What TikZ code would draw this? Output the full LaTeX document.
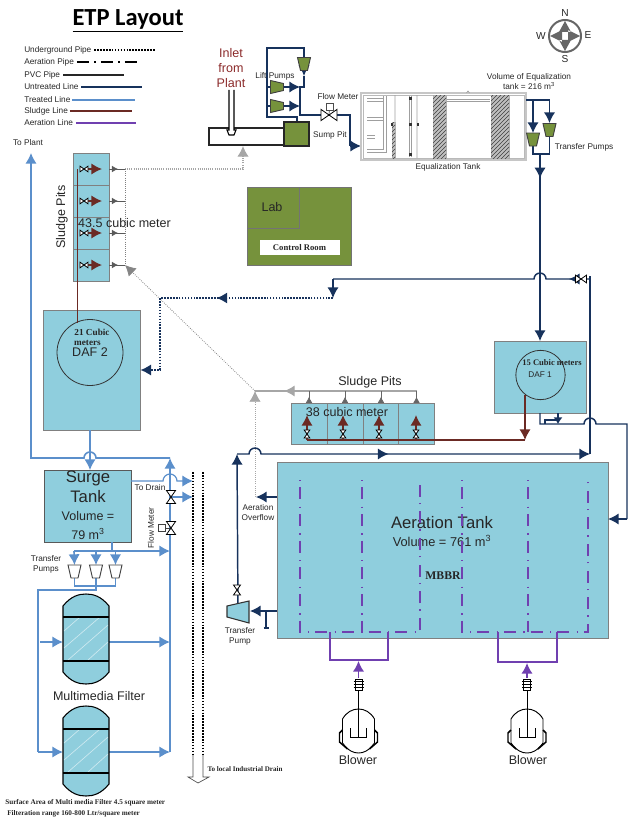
\documentclass[tikz,border=0pt]{standalone}
\usepackage{fontspec}
\setmainfont{Liberation Sans}
\newfontfamily\serfont{Liberation Serif}
\newfontfamily\ttlfont{Carlito}
\usepackage{tikz}
\usetikzlibrary{arrows.meta,decorations.markings,patterns}
\definecolor{tankfill}{HTML}{8FCEDD}
\definecolor{clrnavy}{HTML}{17325C}
\definecolor{clrblue}{HTML}{5B8FCB}
\definecolor{clrsludge}{HTML}{6B2A24}
\definecolor{clraer}{HTML}{7040B0}
\definecolor{clrgreen}{HTML}{76923C}
\definecolor{clrgray}{HTML}{A6A6A6}
\definecolor{clrinlet}{HTML}{8B2A2A}

\begin{document}
\begin{tikzpicture}[x=.75pt, y=-.75pt, >={Latex[length=8pt,width=8.5pt]},
	every node/.style={inner sep=0pt, text=black!85, font=\fontsize{6.2}{7.5}\selectfont},
	txm/.style={font=\fontsize{9.4}{11.25}\selectfont},
	txl/.style={font=\fontsize{12.5}{14}\selectfont},
	txb/.style={font=\serfont\bfseries\fontsize{#1}{#1}\selectfont},
	tank/.style={draw=black!50, fill=tankfill, line width=.6pt},
	greenbox/.style={draw=black!55, fill=clrgreen, line width=.6pt},
	circ/.style={circle, draw=black!80, line width=.6pt},
	hatchcol/.style={draw=gray!60, fill=gray!50, postaction={pattern=north east lines, pattern color=black!75}},
	underground/.style={color=clrnavy, line width=1.2pt, densely dotted},
	aerdash/.style={color=clraer, line width=1.1pt, dash pattern=on 1pt off 4.5pt on 9pt off 5.5pt},
	pvc/.style={color=black!85, line width=.9pt},
	untreated/.style={color=clrnavy, line width=1.1pt},
	treated/.style={color=clrblue, line width=1.2pt},
	sludgeln/.style={color=clrsludge, line width=1.2pt},
	aerln/.style={color=clraer, line width=1.1pt},
	grayln/.style={color=clrgray, line width=1pt},
	graydot/.style={color=gray, line width=.6pt, densely dotted},
	tipat/.style={postaction={decorate, decoration={markings, mark=at position #1 with {\arrow{Latex[length=8pt,width=8.5pt]}}}}},
	tipsm/.style={postaction={decorate, decoration={markings, mark=at position #1 with {\arrow{Latex[length=4.5pt,width=5pt]}}}}},
	valveh/.pic={\draw[black, fill=white, line width=.6pt] (-5,-3.5) -- (5,3.5) -- (5,-3.5) -- (-5,3.5) -- cycle;},
	pump/.pic={\draw[pic actions, draw=black!75, line width=.7pt] (-6.5,-6.5) -- (6.5,-6.5) -- (3.5,6.5) -- (-3.5,6.5) -- cycle;},
	filter/.pic={
		\draw[fill=tankfill, line width=.8pt] (-23,-33) .. controls (-15,-43) and (-7,-45) .. (0,-45) .. controls (7,-45) and (15,-43) .. (23,-33) -- (23,33) .. controls (15,43) and (7,45) .. (0,45) .. controls (-7,45) and (-15,43) .. (-23,33) -- cycle;
		\draw[white!55!tankfill, line width=.5pt] (-22,-8) -- (-6,-22) (-22,9) -- (14,-22) (-18,21) -- (22,-14) (2,21) -- (22,3);
		\draw[line width=1.1pt] (-23,-22) -- (23,-22) (-23,22) -- (23,22);
	},
	blower/.pic={
		\draw[line width=.7pt] (-16,-12) .. controls (-12,-19) and (-6,-22) .. (0,-22) .. controls (6,-22) and (12,-19) .. (16,-12) -- (16,12) .. controls (10,20) and (5,22) .. (0,22) .. controls (-5,22) and (-10,20) .. (-16,12) -- cycle;
		\draw[line width=1.1pt] (-16,-1) -- (-19,2) -- (-19,11) -- (-11,18) (16,-1) -- (19,2) -- (19,11) -- (11,18);
		\draw[line width=.7pt] (-8,-3) -- (-8,6) -- (8,6) -- (8,-3) (0,-46) -- (0,6);
		\draw[line width=.7pt, fill=white] (-3.5,-52) rectangle (3.5,-41);
		\draw[line width=.7pt] (-5,-49.5) -- (5,-49.5) (-5,-46.5) -- (5,-46.5) (-5,-43.5) -- (5,-43.5);
	}]
	\useasboundingbox (0,0) rectangle (631,824);

	\node[font=\ttlfont\bfseries\fontsize{18.4}{20}\selectfont, text=black] (title) at (128,21) {\underline{ETP Layout}};

	\node[anchor=west] (lg1) at (24,50) {Underground Pipe};
	\node[anchor=west] (lg2) at (24,62) {Aeration Pipe};
	\node[anchor=west] (lg3) at (24,75) {PVC Pipe};
	\node[anchor=west] (lg4) at (24,87) {Untreated Line};
	\node[anchor=west] (lg5) at (24,100) {Treated Line};
	\node[anchor=west] (lg6) at (24,111) {Sludge Line};
	\node[anchor=west] (lg7) at (24,123) {Aeration Line};
	\coordinate (lg1e) at (155,50);
	\coordinate (lg2e) at (140,62);
	\coordinate (lg3e) at (124,75);
	\coordinate (lg4e) at (142,87);
	\coordinate (lg5e) at (135,100);
	\coordinate (lg6e) at (132,111);
	\coordinate (lg7e) at (136,123);
	\draw[black, line width=1.2pt, densely dotted, shorten <=2pt] (lg1.east) -- (lg1e);
	\draw[black, line width=1.1pt, dash pattern=on 9pt off 4pt on 1pt off 4pt, shorten <=2pt] (lg2.east) -- (lg2e);
	\draw[pvc, shorten <=2pt] (lg3.east) -- (lg3e);
	\draw[untreated, shorten <=2pt] (lg4.east) -- (lg4e);
	\draw[treated, line width=.8pt, shorten <=1pt] (lg5.east) -- (lg5e);
	\draw[sludgeln, line width=.8pt, shorten <=1pt] (lg6.east) -- (lg6e);
	\draw[aerln, shorten <=2pt] (lg7.east) -- (lg7e);

	\node (cmpN) at (565,13) {\fontsize{7.6}{9}\selectfont N};
	\node (cmpS) at (565,59) {\fontsize{7.6}{9}\selectfont S};
	\node (cmpW) at (541,36) {\fontsize{7.6}{9}\selectfont W};
	\node (cmpE) at (588,35) {\fontsize{7.6}{9}\selectfont E};
	\node[circ, draw=black!60, line width=1.5pt, minimum size=24pt] (cmp) at (565,36) {};
	\fill[black!60] (565,21) -- (571,32) -- (559,32) -- cycle (565,51) -- (571,40) -- (559,40) -- cycle (550,36) -- (562,30) -- (562,42) -- cycle (580,36) -- (568,30) -- (568,42) -- cycle;

	\node[txm, text=clrinlet, align=center] (inlet) at (231,68) {Inlet\\from\\Plant};
	\node[draw=black!85, fill=white, line width=.9pt, minimum width=56.25pt, minimum height=12.75pt] (sump) at (246.5,136.5) {};
	\node[greenbox, draw=black!85, line width=.9pt, minimum width=18.75pt, minimum height=18pt] (sumppit) at (296.5,134) {};
	\draw[black, line width=.8pt, fill=white] (229,90) -- (229,130) -- (227,130) -- (229,135) -- (234,135) -- (236,130) -- (234,130) -- (234,90);

	\coordinate (lpA) at (267,117);
	\coordinate (lpB) at (267,48);
	\coordinate (lpC) at (304,48);
	\coordinate (lpD) at (297,117);
	\coordinate (lpE) at (300,87);
	\coordinate (lpF) at (300,115);
	\coordinate (lpG) at (304,87);
	\coordinate (pumpa) at (304,64);
	\coordinate (pumpb) at (277,87);
	\coordinate (pumpc) at (277,106);
	\coordinate (pumpbl) at (267,87);
	\coordinate (pumpcl) at (267,106);
	\coordinate (pumpbr) at (283,87);
	\coordinate (pumpcr) at (283,106);
	\coordinate (lpH) at (300,106);
	\coordinate (fmv) at (329,115);
	\coordinate (fmbend) at (350,115);
	\coordinate (fmdown) at (350,146);
	\coordinate (eqin) at (361,146);
	\draw[untreated] (sumppit.north -| lpD) -- (lpD) -- (lpA) -- (lpB) -- (lpC) -- (pumpa);
	\draw[untreated,->] (pumpa) -- (304,76);
	\draw[untreated] (304,76) -- (lpG) -- (lpE) -- (lpF) -- (fmv) -- (fmbend) -- (fmdown);
	\draw[untreated,->] (fmdown) -- (eqin);
	\draw[untreated] (pumpbl) -- (pumpb) (pumpcl) -- (pumpc);
	\draw[untreated,->] (pumpbr) -- (lpE);
	\draw[untreated,->] (pumpcr) -- (lpH);
	\pic[fill=clrgreen] at (pumpa) {pump};
	\pic[fill=clrgreen, rotate=90] at (pumpb) {pump};
	\pic[fill=clrgreen, rotate=90] at (pumpc) {pump};
	\node (liftlbl) at (275,76) {Lift Pumps};
	\node[draw=black!70, fill=white, minimum size=5.25pt, line width=.5pt] (fmbox) at (329.5,106.5) {};
	\draw[black!70, line width=.5pt] (fmbox) -- (fmv);
	\pic[scale=1.6] at (fmv) {valveh};
	\node (fmlbl) at (338,97) {Flow Meter};
	\node (sumplbl) at (330,135) {Sump Pit};

	\node[draw=gray!45, fill=white, line width=.9pt, minimum width=123.75pt, minimum height=50.25pt] (eq) at (443.5,126.5) {};
	\draw[gray!55, line width=.5pt] (363,95) rectangle (524,158);
	\draw[gray!75, line width=.5pt, double=white, double distance=1.4pt] (367,100) -- (383,100) (367,119) -- (383,119) (367,137) -- (375,137) (367,151) -- (385,151) -- (385,96);
	\draw[gray!75, line width=.5pt, double=white, double distance=1.4pt] (410.5,96) -- (410.5,157) (446,100.5) -- (490,100.5);
	\draw[gray!75, line width=.5pt] (395,95) -- (395,158) (417,95) -- (417,158) (466.5,93) -- (468,91) -- (469.5,93);
	\node[hatchcol, minimum width=2.25pt, minimum height=27pt] (eqcola) at (393.5,140) {};
	\node[hatchcol, minimum width=9.75pt, minimum height=47.25pt] (eqcolb) at (439.5,126.5) {};
	\node[hatchcol, minimum width=13.5pt, minimum height=47.25pt] (eqcolc) at (500,126.5) {};
	\draw[gray!40!black, line width=2pt] (410.5,96.5) -- (410.5,99.5) (410.5,123) -- (410.5,126) (410.5,153) -- (410.5,156) (418,123) -- (418,126) (392,123) -- (392,126);
	\node (eqlbl) at (448,167) {Equalization Tank};
	\node[align=center] (eqvol) at (529,82) {Volume of Equalization\\tank = 216 m\textsuperscript{3}};

	\coordinate (tpA) at (526,100);
	\coordinate (tpB) at (549.5,100);
	\coordinate (tpC) at (533,100);
	\coordinate (pumpd) at (533,139.5);
	\coordinate (pumpe) at (549.5,130);
	\coordinate (tpD) at (533,154);
	\coordinate (tpE) at (549.5,154);
	\coordinate (tpF) at (540,154);
	\draw[untreated,->] (tpC) -- (533,133);
	\draw[untreated,->] (tpB) -- (549.5,123);
	\draw[untreated] (tpA) -- (tpB);
	\draw[untreated] (pumpd) -- (tpD) -- (tpE) -- (pumpe);
	\pic[fill=clrgreen] at (pumpd) {pump};
	\pic[fill=clrgreen] at (pumpe) {pump};
	\node (tplbl) at (584,147) {Transfer Pumps};

	\node[greenbox, minimum width=78pt, minimum height=58.5pt] (ctrl) at (299,226) {};
	\node[greenbox, anchor=north west, minimum width=39pt, minimum height=30.75pt] (lab) at (ctrl.north west) {};
	\node[txm] (lablbl) at (272,207) {Lab};
	\node[fill=white, minimum width=60pt, minimum height=11.25pt, txb=6.5] (ctrllbl) at (299.5,247.5) {Control Room};

	\node[tank, minimum width=27pt, minimum height=24pt] (spa) at (91,169) {};
	\node[tank, minimum width=27pt, minimum height=24pt] (spb) at (91,201) {};
	\node[tank, minimum width=27pt, minimum height=24pt] (spc) at (91,233) {};
	\node[tank, minimum width=27pt, minimum height=24pt] (spd) at (91,265) {};
	\node[txm, rotate=90] (splbl) at (62,217) {Sludge Pits};
	\node[tank, minimum width=72.75pt, minimum height=90pt] (daf2) at (91.5,370) {};
	\node[circ, minimum size=49.5pt] (daf2c) at (90,352.5) {};
	\node[txb=6.9] (daf2a) at (92,332) {21 Cubic};
	\node[txb=6.9] (daf2b) at (87.5,342.5) {meters};
	\node[txm] (daf2t) at (90,352) {DAF 2};

	\coordinate (sba) at (77.5,169);
	\coordinate (sbb) at (77.5,323);
	\coordinate (sva) at (84,169);
	\coordinate (svb) at (84,201);
	\coordinate (svc) at (84,233);
	\coordinate (svd) at (84,265);
	\coordinate (sta) at (102,169);
	\coordinate (stb) at (102,201);
	\coordinate (stc) at (102,233);
	\coordinate (std) at (102,265);
	\draw[sludgeln] (sba) -- (sbb);
	\draw[sludgeln,->] (sva) -- (sta);
	\draw[sludgeln,->] (svb) -- (stb);
	\draw[sludgeln,->] (svc) -- (stc);
	\draw[sludgeln,->] (svd) -- (std);
	\pic[scale=.8] at (sva) {valveh};
	\pic[scale=.8] at (svb) {valveh};
	\pic[scale=.8] at (svc) {valveh};
	\pic[scale=.8] at (svd) {valveh};

	\coordinate (gda) at (125,169);
	\coordinate (gdb) at (125,201);
	\coordinate (gdc) at (125,233);
	\coordinate (gdd) at (125,265);
	\coordinate (gde) at (243,169);
	\coordinate (gdf) at (243,146);
	\coordinate (gdg) at (255,391);
	\coordinate (gdh) at (255,497);
	\draw[color=black!65, line width=.6pt, tipsm=.55] (spa.east) -- (gda);
	\draw[color=black!65, line width=.6pt, tipsm=.55] (spb.east) -- (gdb);
	\draw[color=black!65, line width=.6pt, tipsm=.55] (spc.east) -- (gdc);
	\draw[color=black!65, line width=.6pt, tipsm=.55] (spd.east) -- (gdd);
	\draw[graydot, line width=.8pt, ->, color=clrgray] (gda) -- (gde) -- (gdf);
	\draw[graydot] (gda) -- (gdd);
	\draw[graydot,->, color=clrgray!80!black] (gdg) -- (gdd);
	\draw[graydot,->, color=clrgray] (gdh) -- (gdg);
	\node[txm] (sp43) at (124.5,223) {43.5 cubic meter};

	\node[tank, minimum width=27pt, minimum height=30.75pt] (pa) at (309,423.5) {};
	\node[tank, minimum width=27pt, minimum height=30.75pt] (pb) at (345,423.5) {};
	\node[tank, minimum width=27pt, minimum height=30.75pt] (pc) at (381,423.5) {};
	\node[tank, minimum width=27pt, minimum height=30.75pt] (pd) at (416.5,423.5) {};
	\node[txm] (pslbl) at (370,382) {Sludge Pits};
	\node[txm] (p38) at (347,412) {38 cubic meter};
	\coordinate (busr) at (416.5,391);
	\coordinate (bsa) at (309,391);
	\coordinate (bsb) at (345,391);
	\coordinate (bsc) at (381,391);
	\draw[grayln, tipat=.82] (busr) -- (gdg);
	\draw[color=black!60, line width=.6pt, tipsm=.5] (pa.north) -- (bsa);
	\draw[color=black!60, line width=.6pt, tipsm=.5] (pb.north) -- (bsb);
	\draw[color=black!60, line width=.6pt, tipsm=.5] (pc.north) -- (bsc);
	\draw[color=black!60, line width=.6pt, tipsm=.5] (pd.north) -- (busr);

	\node[tank, minimum width=69pt, minimum height=54pt] (daf1) at (540,377) {};
	\node[circ, minimum size=37pt] (daf1c) at (540.5,375) {};
	\node[txb=6.4] (daf1a) at (552,363) {15 Cubic meters};
	\node (daf1t) at (540,375) {DAF 1};
	\coordinate (br) at (525,440);
	\coordinate (bra) at (525,395);
	\coordinate (bl) at (307,440);
	\coordinate (ba) at (307,415);
	\coordinate (bb) at (343,415);
	\coordinate (bc) at (379,415);
	\coordinate (bd) at (416,415);
	\coordinate (bab) at (343,440);
	\coordinate (bac) at (379,440);
	\coordinate (bad) at (416,440);
	\coordinate (vba) at (307,434);
	\coordinate (vbb) at (343,434);
	\coordinate (vbc) at (379,434);
	\coordinate (vbd) at (416,434);
	\draw[sludgeln,->] (bra) -- (br);
	\draw[sludgeln] (bl) -- (br);
	\draw[sludgeln,->] (bl) -- (ba);
	\draw[sludgeln,->] (bab) -- (bb);
	\draw[sludgeln,->] (bac) -- (bc);
	\draw[sludgeln,->] (bad) -- (bd);
	\pic[scale=.8, rotate=90] at (vba) {valveh};
	\pic[scale=.8, rotate=90] at (vbb) {valveh};
	\pic[scale=.8, rotate=90] at (vbc) {valveh};
	\pic[scale=.8, rotate=90] at (vbd) {valveh};

	\node[tank, minimum width=248.25pt, minimum height=132pt] (aer) at (442.5,550) {};
	\node[txl] (aerlbl) at (442,523) {Aeration Tank};
	\node[font=\fontsize{9.6}{11}\selectfont] (aervol) at (442,541) {Volume = 761 m\textsuperscript{3}};
	\node[txb=8.8] (mbbr) at (443,576) {MBBR};

	\draw[aerdash] (300,480) -- (300,632) -- (420,632) -- (420,480);
	\draw[aerdash] (362,480) -- (362,632);
	\draw[aerdash] (462,480) -- (462,632) -- (588,632) -- (588,480);
	\draw[aerdash] (528,480) -- (528,632);
	\coordinate (bla) at (358.5,731);
	\coordinate (blb) at (527,731);
	\coordinate (bla1) at (358.5,678);
	\coordinate (bla2) at (358.5,661);
	\coordinate (blb1) at (527,678);
	\coordinate (blb2) at (527,663);
	\draw[aerln] (330,632) -- (330,660) -- (388,660) -- (388,632);
	\draw[aerln] (498,632) -- (498,662) -- (557,662) -- (557,632);
	\draw[aerln,->] (bla1) -- (bla2);
	\draw[aerln,->] (blb1) -- (blb2);
	\pic at (bla) {blower};
	\pic at (blb) {blower};
	\node[txm] (blbla) at (358,760) {Blower};
	\node[txm] (blblb) at (528,760) {Blower};

	\coordinate (mainfrom) at (540,341);
	\draw[untreated, tipat=.13, ->] (tpF) -- (mainfrom);
	\coordinate (rtn) at (590,454);
	\coordinate (rtntop) at (590,276);
	\coordinate (rtnv) at (581,279);
	\coordinate (rtnc) at (333,279);
	\coordinate (rtnd) at (333,298);
	\coordinate (ugb) at (160,298);
	\coordinate (ugc) at (160,370);
	\draw[untreated] (rtn) -- (rtntop);
	\draw[untreated, tipat=.08] (590,279) -- (546,279) arc[start angle=0, end angle=-180, radius=6] -- (rtnc);
	\draw[untreated,->] (rtnc) -- (rtnd);
	\draw[underground, tipat=.44, ->] (rtnd) -- (ugb) -- (ugc) -- (daf2.east |- ugc);
	\pic[scale=1.1] at (rtnv) {valveh};

	\coordinate (tptop) at (237,454);
	\coordinate (tpv) at (237,590);
	\coordinate (tpp) at (238,611);
	\draw[untreated,->] (tpp) -- (tptop);
	\draw[untreated, tipat=.44, ->] (tptop) -- (249,454) arc[start angle=180, end angle=360, radius=6] -- (rtn);
	\coordinate (ovfl) at (256,497);
	\coordinate (tkout) at (250,611);
	\coordinate (tee) at (266,611);
	\coordinate (teeb) at (266,628);
	\draw[untreated,->] (aer.west |- ovfl) -- (ovfl);
	\draw[untreated,->] (aer.west |- tkout) -- (tkout);
	\draw[untreated] (tee) -- (teeb);
	\draw[untreated, line width=2pt] (263.5,628) -- (268.5,628);
	\pic[rotate=90] at (tpv) {valveh};
	\draw[draw=black!80, fill=tankfill, line width=.8pt] (227,606) -- (249,601) -- (249,623) -- (227,617) -- cycle;
	\node (ovlbl) at (258,513) [align=center] {Aeration\\Overflow};
	\node[align=center] (tplbl2) at (240,636) {Transfer\\Pump};

	\coordinate (dfa) at (540,413);
	\coordinate (dfb) at (540,424);
	\coordinate (dfc) at (627,424);
	\coordinate (dfd) at (627,519);
	\coordinate (dfe) at (608,519);
	\coordinate (dfg) at (558,413);
	\coordinate (dfh) at (558,424);
	\draw[untreated] (dfa) -- (dfb) -- (584,424) arc[start angle=180, end angle=360, radius=6] -- (dfc) -- (dfd);
	\draw[untreated,->] (dfd) -- (dfe);
	\draw[untreated,->, >={Latex[length=5pt,width=7pt]}] (dfg) -- (dfh);
	\draw[untreated] (545,424) -- (545,420) -- (558,420);

	\node[tank, draw=black!65, minimum width=65.25pt, minimum height=54pt] (surge) at (87.5,506) {};
	\node[txl] (sg1) at (88,478) {Surge};
	\node[txl] (sg2) at (88,497) {Tank};
	\node[txm] (sg3) at (88,516) {Volume =};
	\node[txm] (sg4) at (88,534) {79 m\textsuperscript{3}};

	\coordinate (tpl) at (31,153);
	\coordinate (tpcor) at (31,458);
	\coordinate (bltop) at (170,458);
	\coordinate (blbot) at (170,752);
	\coordinate (dafdn) at (90,430);
	\coordinate (sgin) at (90,470);
	\node (toplant) at (28,143) {To Plant};
	\draw[treated,->] (blbot) -- (bltop);
	\draw[treated,->] (bltop) -- (96,458) arc[start angle=0, end angle=-180, radius=6] -- (tpcor) -- (tpl);
	\draw[treated,->] (dafdn) -- (sgin);
	\coordinate (drA) at (193,481);
	\coordinate (drB) at (193,497);
	\coordinate (drC) at (170,497);
	\coordinate (sgr) at (131,481);
	\draw[treated, line width=.9pt, ->] (sgr) -- (163,481) arc[start angle=180, end angle=360, radius=7] -- (drA);
	\draw[treated,->] (drC) -- (drB);
	\coordinate (vdr) at (171,497);
	\coordinate (vfm) at (171,528);
	\node[draw=black!75, fill=white, minimum size=5.25pt, line width=.5pt] (vfmbox) at (162,528) {};
	\draw[black!75, line width=.5pt] (vfmbox) -- (vfm);
	\pic[rotate=90, scale=1.3] at (vdr) {valveh};
	\pic[rotate=90, scale=1.3] at (vfm) {valveh};
	\node (drlbl) at (150,488) {To Drain};
	\node[rotate=90] (fmlbl2) at (151,528) {Flow Meter};

	\coordinate (dda) at (193,472);
	\coordinate (ddb) at (193,755);
	\coordinate (dea) at (203,472);
	\coordinate (deb) at (203,755);
	\draw[black, line width=1.2pt, densely dotted] (dda) -- (ddb);
	\draw[black, line width=1.2pt, densely dotted] (dea) -- (deb);
	\draw[black!70, line width=.5pt] (ddb) -- (193,777) -- (188,777) -- (198,783) -- (209,777) -- (203,777) -- (deb);
	\node[txb=5.3] (drain) at (245,769) {To local Industrial Drain};

	\coordinate (sgb) at (112,551);
	\coordinate (sbl) at (74,551);
	\coordinate (sbr) at (170,551);
	\coordinate (stpa) at (74.5,571.5);
	\coordinate (stpb) at (96,571.5);
	\coordinate (stpc) at (115.5,571.5);
	\draw[treated,->] (sbl) -- (sbr);
	\draw[treated] (surge.south -| sgb) -- (sgb);
	\draw[treated,->] (sbl) -- (74.5,565);
	\draw[treated,->] (96,551) -- (96,565);
	\draw[treated,->] (115.5,551) -- (115.5,565);
	\draw[treated] (stpa) -- (74.5,586) -- (115.5,586) -- (stpc);
	\coordinate (fdr) at (38,590);
	\coordinate (fdb) at (38,752);
	\coordinate (fia) at (40,642);
	\coordinate (fib) at (63,642);
	\coordinate (fic) at (63,752);
	\coordinate (foa) at (109,642);
	\coordinate (fob) at (109,752);
	\coordinate (foc) at (170,642);
	\draw[treated] (stpb) -- (96,590) -- (fdr) -- (fdb);
	\draw[treated,->] (fdb) -- (fic);
	\draw[treated,->] (fia) -- (fib);
	\draw[treated,->] (foa) -- (foc);
	\draw[treated,->] (fob) -- (blbot);
	\pic[fill=white] at (stpa) {pump};
	\pic[fill=white] at (stpb) {pump};
	\pic[fill=white] at (stpc) {pump};
	\node[align=center] (stplbl) at (46,564) {Transfer\\Pumps};
	\pic at (86,639) {filter};
	\pic at (86,751) {filter};
	\node[txm] (mflbl) at (99,696) {Multimedia Filter};
	\node[txb=5.4, anchor=west] (ftxa) at (5,803) {Surface Area of Multi media Filter 4.5 square meter};
	\node[txb=5.4, anchor=west] (ftxb) at (7,814) {Filteration range 160-800 Ltr/square meter};
\end{tikzpicture}
\end{document}
